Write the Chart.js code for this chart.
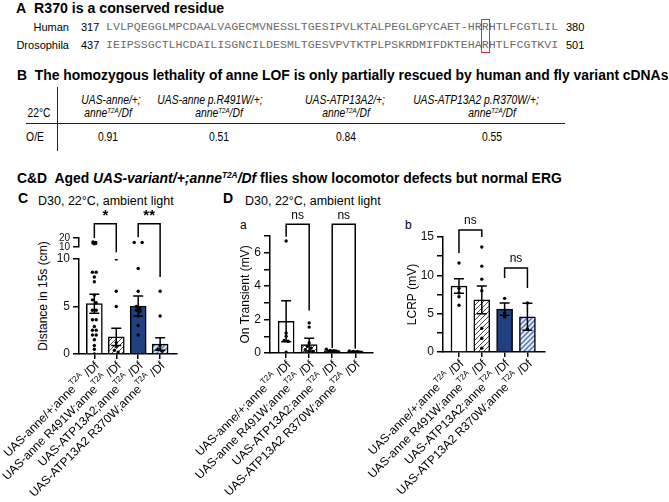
<!DOCTYPE html>
<html>
<head>
<meta charset="utf-8">
<title>anne / ATP13A2 variant rescue</title>
<script src="https://cdn.jsdelivr.net/npm/chart.js@4.4.1/dist/chart.umd.min.js"></script>
<style>
  html, body { margin: 0; padding: 0; background: #fff; }
  #fig { position: relative; width: 669px; height: 502px; overflow: hidden;
         font-family: "Liberation Sans", Arial, sans-serif; color: #000; }
  .t { position: absolute; white-space: nowrap; line-height: 1; }
  .head { font-weight: bold; font-size: 14px; transform-origin: 0 50%; }
  .seq { font-family: "Liberation Mono", "Courier New", monospace; font-size: 11.6px; color: #6b6b6b; }
  .lab { font-size: 11px; }
  .cell { font-size: 12px; transform: translateX(-50%) scaleX(0.86); }
  sup { font-size: 0.6em; vertical-align: baseline; position: relative; top: -0.6em; }
  .rule { position: absolute; background: #222; }
  canvas { position: absolute; }
</style>
</head>
<body>
<div id="fig">
  <div class="t head" id="titleA" style="left:16px;top:1px">A&nbsp; R370 is a conserved residue</div>

  <div class="t lab" style="right:600px;top:22px">Human</div>
  <div class="t lab" id="hStart" style="left:81px;top:22px"></div>
  <div class="t seq" id="hSeq" style="left:106px;top:21px"></div>
  <div class="t lab" id="hEnd" style="left:566px;top:22px"></div>
  <div class="t lab" style="right:600px;top:40px">Drosophila</div>
  <div class="t lab" id="fStart" style="left:81px;top:40px"></div>
  <div class="t seq" id="fSeq" style="left:106px;top:39px"></div>
  <div class="t lab" id="fEnd" style="left:566px;top:40px"></div>
  <div id="rbox" style="position:absolute;top:19px;height:34px;border:1.5px solid #e03030;box-sizing:border-box"></div>

  <div class="t head" id="titleB" style="left:17px;top:68px">B&nbsp; The homozygous lethality of anne LOF is only partially rescued by human and fly variant cDNAs</div>
  <div class="rule" style="left:57px;top:87px;width:1.3px;height:64px"></div>
  <div class="rule" style="left:26px;top:123px;width:539px;height:1.3px"></div>
  <div class="t cell" style="left:39px;top:107px">22°C</div>
  <div class="t cell" style="left:35px;top:131px">O/E</div>
  <div id="table"></div>

  <div class="t head" id="titleCD" style="left:17px;top:171px">C&amp;D&nbsp; Aged <i>UAS-variant/+;anne<sup>T2A</sup>/Df</i> flies show locomotor defects but normal ERG</div>
  <div class="t head" style="left:18px;top:191px">C</div>
  <div class="t" style="left:38px;top:195px;font-size:12.5px">D30, 22°C, ambient light</div>
  <div class="t head" style="left:223px;top:191px">D</div>
  <div class="t" style="left:245px;top:195px;font-size:12.5px">D30, 22°C, ambient light</div>
  <div class="t" style="left:240px;top:219px;font-size:12px">a</div>
  <div class="t" style="left:405px;top:219px;font-size:12px">b</div>
  <div class="t" style="left:43px;top:296px;font-size:12px;transform:translate(-50%,-50%) rotate(-90deg)">Distance in 15s (cm)</div>

  <canvas id="chartC" width="215" height="292" style="left:0;top:210px"></canvas>
  <canvas id="chartDa" width="210" height="292" style="left:180px;top:210px"></canvas>
  <canvas id="chartDb" width="220" height="292" style="left:350px;top:210px"></canvas>
</div>

<script>
// ---- data ----
const genotypes = ['UAS-anne/+;anne', 'UAS-anne R491W;anne', 'UAS-ATP13A2;anne', 'UAS-ATP13A2 R370W;anne'];
const tableLine1 = ['UAS-anne/+;', 'UAS-anne p.R491W/+;', 'UAS-ATP13A2/+;', 'UAS-ATP13A2 p.R370W/+;'];
const oeRatio = ['0.91', '0.51', '0.84', '0.55'];

const humanSeq = 'LVLPQEGGLMPCDAALVAGECMVNESSLTGESIPVLKTALPEGLGPYCAET-HRRHTLFCGTLIL';
const flySeq = 'IEIPSSGCTLHCDAILISGNCILDESMLTGESVPVTKTPLPSKRDMIFDKTEHARHTLFCGTKVI';
const humanRange = [317, 380];
const flyRange = [437, 501];
const conservedIdx = 54;

// C: distance walked in 15 s (cm)
const distMean = [5.3, 1.8, 5.05, 1.05];
const distSem = [1.0, 0.9, 1.05, 0.65];
const distPts = [
  [15.5, 15, 14.5, 14, 13.5, 8.6, 8.6, 8.1, 7.6, 6.2, 5.7, 5.4, 4.6, 4.6, 3.6, 3.6, 2.9, 2.5, 2.5, 2.0, 2.0, 1.5, 0.9, 0.5, 0],
  [10, 6.6, 5.0, 1.2, 0.8, 0.4, 0.2],
  [15, 15, 9.0, 6.6, 5.0, 4.8, 4.6, 4.5, 4.0, 3.0, 2.0],
  [6.6, 4.0, 0.9, 0.5, 0.3]
];
// D a: on transient (mV)
const onMean = [1.9, 0.5, 0.13, 0.08];
const onSem = [1.22, 0.38, 0.04, 0.03];
const onPts = [
  [6.7, 1.2, 1.0, 0.75, 0.7, 0.05],
  [1.8, 1.55, 0.6, 0.4, 0.3, 0.2, 0.1, 0.1],
  [0.22, 0.15, 0.12, 0.08],
  [0.12, 0.1, 0.08, 0.05]
];
// D b: LCRP (mV)
const lcrpMean = [8.6, 6.8, 5.6, 4.6];
const lcrpSem = [0.95, 1.8, 0.8, 1.75];
const lcrpPts = [
  [11.6, 8.3, 7.7, 7.2, 6.1],
  [13.7, 11.2, 9.5, 8.0, 3.1, 1.8, 0.5],
  [7.0, 5.1, 4.6],
  [6.4, 3.0]
];

// significance brackets (values in y units of each panel)
const distSig = [
  { a: 0, b: 1, text: '*', top: 13.7, legA: 12.2, legB: 10.7 },
  { a: 2, b: 3, text: '**', top: 13.7, legA: 12.3, legB: 8.1 }
];
const onSig = [
  { a: 0, b: 1, text: 'ns', top: 7.7, legA: 6.95, legB: 2.55 },
  { a: 2, b: 3, text: 'ns', top: 7.7, legA: 0.3, legB: 0.25 }
];
const lcrpSig = [
  { a: 0, b: 1, text: 'ns', top: 15.9, legA: 12.9, legB: 15.0 },
  { a: 2, b: 3, text: 'ns', top: 10.95, legA: 9.65, legB: 8.35 }
];

// ---- panel A and B text ----
function $(id) { return document.getElementById(id); }
$('hStart').textContent = humanRange[0];
$('hEnd').textContent = humanRange[1];
$('fStart').textContent = flyRange[0];
$('fEnd').textContent = flyRange[1];
$('hSeq').innerHTML = humanSeq.slice(0, conservedIdx) + '<span id="hR">' + humanSeq[conservedIdx] + '</span>' + humanSeq.slice(conservedIdx + 1);
$('fSeq').textContent = flySeq;
const hR = $('hR');
$('rbox').style.left = ($('hSeq').offsetLeft + hR.offsetLeft - 1) + 'px';
$('rbox').style.width = (hR.offsetWidth + 2) + 'px';

const headX = [111, 210, 345, 476];
const valueX = [108, 219, 346, 492];
let html = '';
tableLine1.forEach((h, i) => {
  html += `<div class="t cell" style="left:${headX[i]}px;top:94px"><i>${h}</i></div>`;
  html += `<div class="t cell" style="left:${valueX[i]}px;top:107px"><i>anne<sup>T2A</sup>/Df</i></div>`;
  html += `<div class="t cell" style="left:${valueX[i]}px;top:131px">${oeRatio[i]}</div>`;
});
$('table').innerHTML = html;

function fitWidth(id, w) {
  const el = $(id);
  el.style.transform = `scaleX(${w / el.scrollWidth})`;
}
fitWidth('titleA', 208);
fitWidth('titleB', 651);
fitWidth('titleCD', 545);

// ---- charts ----
Chart.defaults.font.family = '"Liberation Sans", Arial, sans-serif';
Chart.defaults.color = '#000';

function hatch(bg, fg, lw) {
  const c = document.createElement('canvas');
  c.width = 5; c.height = 5;
  const g = c.getContext('2d');
  g.fillStyle = bg; g.fillRect(0, 0, 5, 5);
  g.strokeStyle = fg; g.lineWidth = lw;
  g.beginPath();
  g.moveTo(0, 5); g.lineTo(5, 0);
  g.moveTo(-1, 1); g.lineTo(1, -1);
  g.moveTo(4, 6); g.lineTo(6, 4);
  g.stroke();
  return g.createPattern(c, 'repeat');
}
const fills = ['#ffffff', hatch('#ffffff', '#4a4a4a', 1), '#21407f', hatch('#e4ebf7', '#4a72bd', 1.4)];

// simple beeswarm: values closer than tol share a row and are spread sideways
function spread(vals, idx, tol, step) {
  const out = [];
  let row = [];
  const flush = () => {
    row.forEach((v, k) => out.push({ x: idx + (k - (row.length - 1) / 2) * step, y: v }));
    row = [];
  };
  vals.slice().sort((a, b) => b - a).forEach(v => {
    if (row.length && Math.abs(row[0] - v) > tol) flush();
    row.push(v);
  });
  flush();
  return out;
}

const figurePlugin = {
  id: 'figure',
  afterDatasetsDraw(chart, args, o) {
    const ctx = chart.ctx, xs = chart.scales.x, ys = chart.scales.y;
    ctx.save();
    ctx.strokeStyle = '#000';
    ctx.lineWidth = 1.5;
    o.mean.forEach((m, i) => {
      const px = xs.getPixelForValue(i);
      const hi = ys.getPixelForValue(m + o.sem[i]);
      const lo = ys.getPixelForValue(Math.max(0, m - o.sem[i]));
      ctx.beginPath();
      ctx.moveTo(px, hi); ctx.lineTo(px, lo);
      ctx.moveTo(px - o.cap, hi); ctx.lineTo(px + o.cap, hi);
      ctx.moveTo(px - o.cap, lo); ctx.lineTo(px + o.cap, lo);
      ctx.stroke();
    });
    o.brackets.forEach(b => {
      const xa = xs.getPixelForValue(b.a), xb = xs.getPixelForValue(b.b);
      const top = ys.getPixelForValue(b.top);
      ctx.beginPath();
      ctx.moveTo(xa, ys.getPixelForValue(b.legA));
      ctx.lineTo(xa, top); ctx.lineTo(xb, top);
      ctx.lineTo(xb, ys.getPixelForValue(b.legB));
      ctx.stroke();
      ctx.fillStyle = '#000';
      ctx.textAlign = 'center';
      ctx.textBaseline = 'bottom';
      ctx.font = b.text === 'ns' ? '12px "Liberation Sans"' : 'bold 15px "Liberation Sans"';
      ctx.fillText(b.text, (xa + xb) / 2, top - (b.text === 'ns' ? 3 : 0));
    });
    ctx.restore();
  },
  afterDraw(chart) {
    const ctx = chart.ctx, xs = chart.scales.x;
    const main = '12px "Liberation Sans"', small = '8px "Liberation Sans"';
    ctx.save();
    ctx.fillStyle = '#000';
    ctx.textBaseline = 'middle';
    ctx.textAlign = 'left';
    genotypes.forEach((g, i) => {
      ctx.font = main;
      const w1 = ctx.measureText(g).width, w3 = ctx.measureText(' /Df').width;
      ctx.font = small;
      const w2 = ctx.measureText('T2A').width;
      ctx.save();
      ctx.translate(xs.getPixelForValue(i) + 3, xs.top + 10);
      ctx.rotate(-Math.PI / 4);
      let x = -(w1 + w2 + w3);
      ctx.font = main; ctx.fillText(g, x, 0); x += w1;
      ctx.font = small; ctx.fillText('T2A', x, -5); x += w2;
      ctx.font = main; ctx.fillText(' /Df', x, 0);
      ctx.restore();
    });
    ctx.restore();
  }
};

const axisLine = { color: '#000', width: 1.5 };
const tickMarks = { display: true, drawOnChartArea: false, drawTicks: true, tickLength: 6, color: '#000', lineWidth: 1.5 };

function xAxis() {
  return {
    type: 'linear', min: -0.7, max: 3.77, offset: false,
    afterBuildTicks: s => { s.ticks = [0, 1, 2, 3].map(v => ({ value: v })); },
    afterFit: s => { s.height = 6; },
    ticks: { display: false },
    grid: Object.assign({}, tickMarks, { tickLength: 5, offset: false }),
    border: axisLine
  };
}

function yAxis(opts) {
  return Object.assign({
    type: 'linear', position: 'left',
    ticks: { font: { size: 12 }, padding: 3, autoSkip: false, color: '#111' },
    grid: tickMarks,
    border: axisLine
  }, opts);
}

function barSet(mean, yId) {
  return {
    type: 'bar', data: mean.map((m, i) => ({ x: i, y: m })), yAxisID: yId || 'y',
    backgroundColor: fills, borderColor: '#000', borderWidth: 1.5, barThickness: 16, order: 3
  };
}
function dotSet(pts, yId) {
  return {
    type: 'scatter', data: pts, yAxisID: yId || 'y',
    pointRadius: 1.7, pointBackgroundColor: '#000', pointBorderWidth: 0, order: 1
  };
}
function baseOptions(padding, scales, fig) {
  return {
    responsive: false, animation: false, events: [],
    layout: { padding: padding },
    plugins: { legend: { display: false }, tooltip: { enabled: false }, figure: fig },
    scales: scales
  };
}

// panel C: broken y axis built from three stacked scales
const lowPts = [], highPts = [];
distPts.forEach((vals, i) => {
  lowPts.push(...spread(vals.filter(v => v <= 10), i, 0.3, 0.17));
  highPts.push(...spread(vals.filter(v => v > 10), i, 0.8, i === 0 ? 0.12 : 0.36));
});
new Chart($('chartC'), {
  type: 'bar',
  data: { datasets: [barSet(distMean), dotSet(lowPts), dotSet(highPts, 'yTop')] },
  options: baseOptions({ left: 49, top: 28, right: 38, bottom: 142 }, {
    x: xAxis(),
    y: yAxis({ min: 0, max: 10, stack: 'dist', stackWeight: 95,
      afterBuildTicks: s => { s.ticks = [0, 5, 10].map(v => ({ value: v })); },
      afterFit: s => { s.width = 30; } }),
    yGap: { type: 'linear', position: 'left', min: 0, max: 1, stack: 'dist', stackWeight: 12,
      ticks: { display: false }, grid: { display: false }, border: { display: false },
      afterFit: s => { s.width = 30; } },
    yTop: yAxis({ min: 10, max: 20, stack: 'dist', stackWeight: 9,
      ticks: { font: { size: 10 }, padding: 3, autoSkip: false, color: '#111' },
      afterBuildTicks: s => { s.ticks = [10, 20].map(v => ({ value: v })); },
      afterFit: s => { s.width = 30; } })
  }, { mean: distMean, sem: distSem, cap: 5, brackets: distSig }),
  plugins: [figurePlugin]
});

// panel D a
const onDots = [];
onPts.forEach((vals, i) => onDots.push(...spread(vals, i, 0.15, 0.17)));
new Chart($('chartDa'), {
  type: 'bar',
  data: { datasets: [barSet(onMean), dotSet(onDots)] },
  options: baseOptions({ left: 54, top: 26, right: 17, bottom: 143 }, {
    x: xAxis(),
    y: yAxis({ min: 0, max: 7,
      afterBuildTicks: s => { s.ticks = [0, 1, 2, 3, 4, 5, 6, 7].map(v => ({ value: v })); },
      ticks: { font: { size: 12 }, padding: 3, autoSkip: false, color: '#111',
        callback: v => (v % 2 === 0 ? v : '') },
      title: { display: true, text: 'On Transient (mV)', font: { size: 12 }, padding: 4 },
      afterFit: s => { s.width = 36; } })
  }, { mean: onMean, sem: onSem, cap: 5, brackets: onSig }),
  plugins: [figurePlugin]
});

// panel D b
const lcrpDots = [];
lcrpPts.forEach((vals, i) => lcrpDots.push(...spread(vals, i, 0.4, 0.17)));
new Chart($('chartDb'), {
  type: 'bar',
  data: { datasets: [barSet(lcrpMean), dotSet(lcrpDots)] },
  options: baseOptions({ left: 51, top: 27, right: 25, bottom: 144 }, {
    x: xAxis(),
    y: yAxis({ min: 0, max: 15,
      afterBuildTicks: s => { s.ticks = [0, 2.5, 5, 7.5, 10, 12.5, 15].map(v => ({ value: v })); },
      ticks: { font: { size: 12 }, padding: 3, autoSkip: false, color: '#111',
        callback: v => (v % 5 === 0 ? v : '') },
      title: { display: true, text: 'LCRP (mV)', font: { size: 12 }, padding: 4 },
      afterFit: s => { s.width = 42; } })
  }, { mean: lcrpMean, sem: lcrpSem, cap: 5, brackets: lcrpSig }),
  plugins: [figurePlugin]
});
</script>
</body>
</html>
